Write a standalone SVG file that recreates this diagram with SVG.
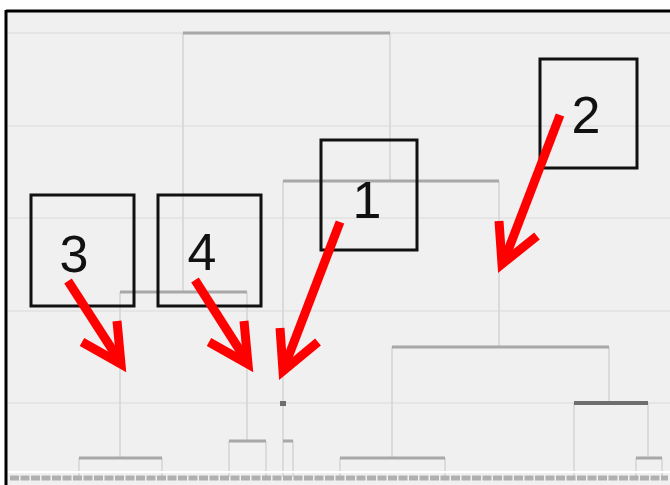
<svg xmlns="http://www.w3.org/2000/svg" width="670" height="485" viewBox="0 0 670 485">
<style>
.grid{stroke:#e5e5e5;stroke-width:2}
.v{stroke:#d4d4d4;stroke-width:1.5;fill:none}
.h{stroke:#a8a8a8;stroke-width:3;fill:none}
.hd{stroke:#6e6e6e;stroke-width:4;fill:none}
.box{fill:none;stroke:#111;stroke-width:3}
.lbl{font-family:"Liberation Sans",Arial,sans-serif;font-size:52px;fill:#111;text-anchor:middle}
.arr{stroke:#ff0000;stroke-width:9;fill:none;stroke-linejoin:miter;stroke-linecap:butt}
</style>
<rect x="0" y="0" width="670" height="485" fill="#ffffff"/>
<rect x="6" y="11" width="664" height="474" fill="#f0f0f0"/>
<g id="grid">
<line class="grid" x1="8" y1="33" x2="670" y2="33"/>
<line class="grid" x1="8" y1="126" x2="670" y2="126"/>
<line class="grid" x1="8" y1="218" x2="670" y2="218"/>
<line class="grid" x1="8" y1="311" x2="670" y2="311"/>
<line class="grid" x1="8" y1="403" x2="670" y2="403"/>
</g>
<g id="connectors">
<line class="v" x1="183" y1="33" x2="183" y2="292"/>
<line class="v" x1="390" y1="33" x2="390" y2="181"/>
<line class="v" x1="120" y1="292" x2="120" y2="458"/>
<line class="v" x1="247" y1="292" x2="247" y2="441"/>
<line class="v" x1="79" y1="458" x2="79" y2="477"/>
<line class="v" x1="162" y1="458" x2="162" y2="477"/>
<line class="v" x1="229" y1="441" x2="229" y2="477"/>
<line class="v" x1="266" y1="441" x2="266" y2="477"/>
<line class="v" x1="283" y1="181" x2="283" y2="477"/>
<line class="v" x1="293" y1="441" x2="293" y2="477"/>
<line class="v" x1="499" y1="181" x2="499" y2="347"/>
<line class="v" x1="392" y1="347" x2="392" y2="458"/>
<line class="v" x1="340" y1="458" x2="340" y2="477"/>
<line class="v" x1="445" y1="458" x2="445" y2="477"/>
<line class="v" x1="609" y1="347" x2="609" y2="403"/>
<line class="v" x1="574" y1="403" x2="574" y2="477"/>
<line class="v" x1="648" y1="403" x2="648" y2="458"/>
<line class="v" x1="636" y1="458" x2="636" y2="477"/>
<line class="v" x1="662" y1="458" x2="662" y2="477"/>
<line class="h" x1="183" y1="33" x2="390" y2="33"/>
<line class="h" x1="283" y1="181" x2="499" y2="181"/>
<line class="h" x1="120" y1="292" x2="247" y2="292"/>
<line class="h" x1="79" y1="458" x2="162" y2="458"/>
<line class="h" x1="229" y1="441" x2="266" y2="441"/>
<line class="h" x1="283" y1="441" x2="293" y2="441"/>
<line class="h" x1="392" y1="347" x2="609" y2="347"/>
<line class="h" x1="340" y1="458" x2="445" y2="458"/>
<line class="hd" x1="574" y1="403" x2="648" y2="403"/>
<line class="h" x1="636" y1="458" x2="662" y2="458"/>
<rect x="280" y="401" width="6" height="5" fill="#6e6e6e"/>
</g>
<g id="axis">
<line x1="8" y1="472" x2="670" y2="472" stroke="#ffffff" stroke-width="2"/>
<line x1="10" y1="478" x2="668" y2="478" stroke="#b0b0b0" stroke-width="5" stroke-dasharray="9 1.5"/>
</g>
<g id="frame">
<line x1="6" y1="11" x2="670" y2="11" stroke="#000" stroke-width="3"/>
<line x1="6" y1="10" x2="6" y2="485" stroke="#000" stroke-width="3"/>
</g>
<g id="node1">
<rect class="box" x="321" y="140" width="96" height="110"/>
<text class="lbl" x="367" y="218">1</text>
</g>
<g id="node2">
<rect class="box" x="540" y="59" width="97" height="109"/>
<text class="lbl" x="586" y="133">2</text>
</g>
<g id="node3">
<rect class="box" x="31" y="195" width="103" height="111"/>
<text class="lbl" x="74" y="272">3</text>
</g>
<g id="node4">
<rect class="box" x="158" y="195" width="103" height="111"/>
<text class="lbl" x="202" y="270">4</text>
</g>
<g id="arrows">
<path class="arr" d="M340,222 L284,368"/>
<path class="arr" d="M280,328 L283,371 L318,342"/>
<path class="arr" d="M560,115 L504,261"/>
<path class="arr" d="M499,221 L502,264 L537,236"/>
<path class="arr" d="M68,281 L119,360"/>
<path class="arr" d="M117,321 L121,364 L82,342"/>
<path class="arr" d="M195,280 L246,360"/>
<path class="arr" d="M244,321 L248,364 L209,342"/>
</g>
</svg>
